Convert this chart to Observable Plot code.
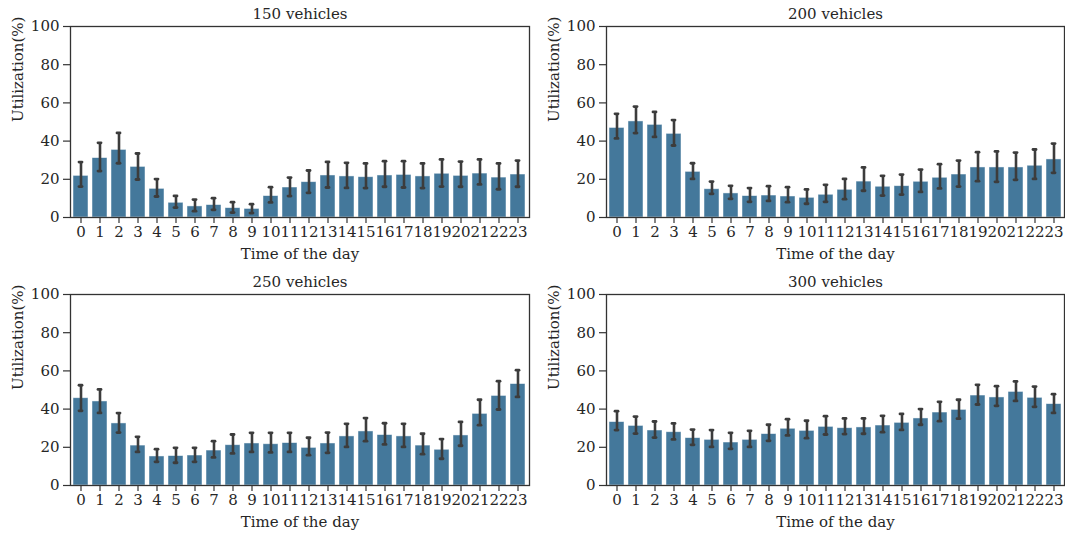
<!DOCTYPE html>
<html>
<head>
<meta charset="utf-8">
<script src="https://cdn.jsdelivr.net/npm/d3@7"></script>
<script src="https://cdn.jsdelivr.net/npm/@observablehq/plot@0.6"></script>
<style>
  body { margin: 0; background: #fff; }
  #chart { position: relative; width: 1065px; height: 533px; overflow: hidden; }
  .panel { position: absolute; }
</style>
</head>
<body>
<div id="chart"></div>
<script>
// Hour of day (x categories)
const hours = d3.range(24);

// Fleet sizes, one panel each
const fleetTitles = ["150 vehicles", "200 vehicles", "250 vehicles", "300 vehicles"];

// Mean utilization (%) per hour and error-bar bounds
const mean150 = [21.8, 31.1, 35.4, 26.5, 15.0, 7.7, 5.8, 6.5, 4.9, 4.5, 11.2, 15.7, 18.5, 22.0, 21.5, 21.1, 22.0, 22.3, 21.5, 22.9, 21.8, 23.0, 20.9, 22.5];
const lo150   = [16.2, 24.3, 28.4, 19.9, 11.0, 5.2, 3.3, 4.0, 2.6, 2.3, 7.9, 11.2, 12.9, 15.7, 15.5, 15.4, 16.1, 15.7, 15.4, 16.2, 16.1, 17.3, 14.8, 16.1];
const hi150   = [29.0, 39.1, 44.3, 33.5, 20.1, 11.3, 9.4, 10.1, 8.0, 7.0, 15.9, 20.9, 24.6, 29.1, 28.6, 28.3, 29.5, 29.5, 28.3, 30.4, 29.3, 30.4, 28.3, 29.8];

const mean200 = [46.9, 50.3, 48.5, 43.8, 23.9, 14.8, 12.6, 11.2, 11.5, 11.0, 10.3, 11.9, 14.5, 18.8, 16.1, 16.4, 18.7, 20.8, 22.5, 26.2, 26.2, 26.2, 27.1, 30.4];
const lo200   = [41.4, 44.2, 42.2, 37.7, 20.2, 12.4, 9.8, 8.2, 8.7, 8.0, 7.2, 8.2, 9.6, 14.0, 11.5, 12.0, 13.4, 15.2, 16.2, 19.0, 18.7, 19.7, 20.2, 23.4];
const hi200   = [54.3, 58.1, 55.3, 51.0, 28.4, 18.8, 16.6, 15.4, 16.4, 15.9, 14.7, 17.1, 20.2, 26.2, 21.8, 22.5, 25.1, 27.9, 29.8, 34.2, 34.6, 34.0, 35.6, 38.7];

const mean250 = [45.7, 44.0, 32.5, 20.9, 15.2, 15.4, 15.7, 18.3, 21.1, 22.0, 21.6, 22.2, 19.7, 22.0, 25.7, 28.3, 26.4, 25.7, 20.9, 18.7, 26.2, 37.5, 46.9, 53.1];
const lo250   = [39.1, 38.0, 27.7, 17.6, 12.4, 11.9, 12.4, 14.7, 16.8, 17.6, 17.3, 17.6, 15.9, 17.1, 20.2, 23.2, 21.5, 20.2, 16.4, 14.0, 20.8, 31.6, 39.8, 46.4];
const hi250   = [52.5, 50.3, 37.9, 25.5, 19.0, 19.7, 19.7, 23.2, 26.7, 27.6, 27.6, 27.6, 25.0, 27.7, 32.3, 35.3, 32.6, 32.3, 27.1, 24.3, 33.3, 44.9, 54.6, 60.4];

const mean300 = [33.2, 31.2, 28.8, 27.9, 24.8, 23.9, 22.5, 23.9, 26.9, 29.7, 28.6, 30.7, 30.0, 30.4, 31.4, 32.8, 35.1, 38.2, 39.6, 47.1, 46.1, 49.0, 45.9, 42.6];
const lo300   = [29.0, 27.2, 25.1, 24.1, 21.3, 20.2, 19.2, 20.2, 23.4, 26.2, 24.8, 26.7, 26.9, 27.1, 27.9, 29.1, 31.8, 33.7, 35.0, 42.4, 41.7, 44.3, 41.2, 38.0];
const hi300   = [38.9, 36.1, 33.5, 32.5, 29.3, 29.0, 27.6, 28.6, 31.8, 34.7, 33.9, 36.3, 35.1, 35.1, 36.5, 37.5, 40.0, 43.8, 44.9, 52.7, 52.0, 54.5, 51.8, 47.8];

const yTicks = [0, 20, 40, 60, 80, 100];

const panels = [
  {title: fleetTitles[0], mean: mean150, lo: lo150, hi: hi150, left: 0,   top: 0,   width: 532, height: 268, mr: 3, mb: 51},
  {title: fleetTitles[1], mean: mean200, lo: lo200, hi: hi200, left: 536, top: 0,   width: 529, height: 268, mr: 1, mb: 51},
  {title: fleetTitles[2], mean: mean250, lo: lo250, hi: hi250, left: 0,   top: 268, width: 532, height: 265, mr: 3, mb: 48},
  {title: fleetTitles[3], mean: mean300, lo: lo300, hi: hi300, left: 536, top: 268, width: 529, height: 265, mr: 1, mb: 48}
];

const barColor = "#44789b";
const errColor = "#3c3c3c";
const ink = "#262626";
const fs = 15;

const root = document.getElementById("chart");

for (const p of panels) {
  const plot = Plot.plot({
    width: p.width,
    height: p.height,
    marginLeft: 70,
    marginRight: p.mr,
    marginTop: 26,
    marginBottom: p.mb,
    style: {fontFamily: "'DejaVu Serif', serif", fontSize: fs + "px", color: ink, background: "transparent", overflow: "visible"},
    x: {type: "band", domain: hours, paddingInner: 0.2, paddingOuter: 0.1},
    y: {domain: [0, 100]},
    marks: [
      Plot.barY(hours, {x: hours, y: p.mean, fill: barColor, stroke: "#ffffff", strokeOpacity: 0.6, strokeWidth: 0.8}),
      Plot.ruleX(hours, {x: hours, y1: p.lo, y2: p.hi, stroke: errColor, strokeWidth: 2.6}),
      Plot.tickY(hours, {x: hours, y: p.lo, stroke: errColor, strokeWidth: 2.8, strokeLinecap: "round", inset: 6}),
      Plot.tickY(hours, {x: hours, y: p.hi, stroke: errColor, strokeWidth: 2.8, strokeLinecap: "round", inset: 6}),
      Plot.axisY({ticks: yTicks, tickSize: 7, tickPadding: 4, label: null, stroke: "#333", strokeWidth: 1.2, fontSize: fs}),
      Plot.axisX({tickSize: 6, tickPadding: 3, label: null, stroke: "#333", strokeWidth: 1.2, fontSize: fs}),
      Plot.frame({stroke: "#333", strokeWidth: 1.3}),
      Plot.text([p.title], {frameAnchor: "top", lineAnchor: "middle", dy: -12, text: d => d, fill: ink, fontSize: fs}),
      Plot.text(["Utilization(%)"], {frameAnchor: "left", dx: -52, rotate: -90, text: d => d, fill: ink, fontSize: fs}),
      Plot.text(["Time of the day"], {frameAnchor: "bottom", lineAnchor: "middle", dy: 37, text: d => d, fill: ink, fontSize: fs})
    ]
  });
  const div = document.createElement("div");
  div.className = "panel";
  div.style.left = p.left + "px";
  div.style.top = p.top + "px";
  div.appendChild(plot);
  root.appendChild(div);
}
</script>
</body>
</html>
